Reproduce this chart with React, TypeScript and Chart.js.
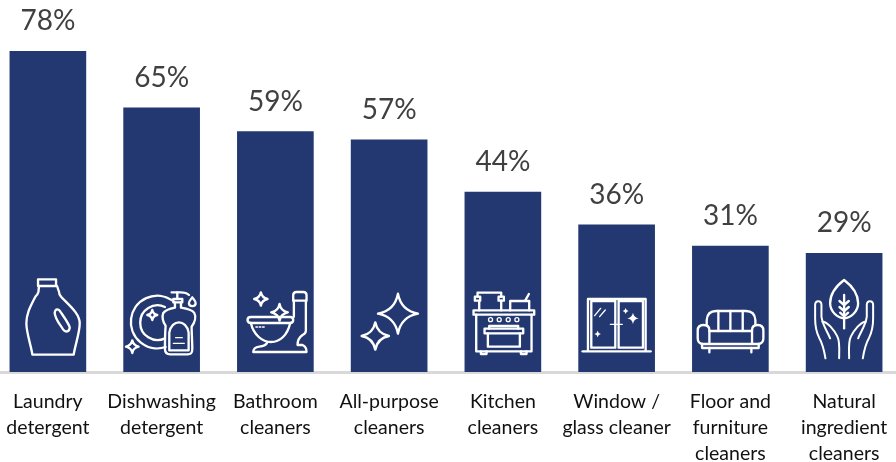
import React, { useEffect, useRef } from "react";
import { Chart, registerables } from "chart.js";

Chart.register(...registerables);

const categories: string[][] = [
  ["Laundry", "detergent"],
  ["Dishwashing", "detergent"],
  ["Bathroom", "cleaners"],
  ["All-purpose", "cleaners"],
  ["Kitchen", "cleaners"],
  ["Window /", "glass cleaner"],
  ["Floor and", "furniture", "cleaners"],
  ["Natural", "ingredient", "cleaners"],
];
const shares: number[] = [78.4, 64.6, 58.8, 56.8, 44, 36, 30.8, 29];

const BAR_COLOR = "#233870";
const FONT = "Lato, 'Open Sans', sans-serif";

function star(cx: number, cy: number, r: number, rx: number = r): string {
  const k = 0.16;
  return `M${cx} ${cy - r} Q${cx + rx * k} ${cy - r * k} ${cx + rx} ${cy} Q${cx + rx * k} ${cy + r * k} ${cx} ${cy + r} Q${cx - rx * k} ${cy + r * k} ${cx - rx} ${cy} Q${cx - rx * k} ${cy - r * k} ${cx} ${cy - r}Z`;
}

type Icon = { ox: number; oy: number; paths: string[]; thin?: string[]; fill?: string[]; mirror?: boolean };

const icons: Icon[] = [
  {
    ox: 142.5, oy: 306,
    paths: [
      "M113 28H167V48H113Z",
      "M116 48L114 66Q112 74 105 80C90 110 78 130 78 160C78 190 92 225 96 254H220C224 225 238 190 238 160C238 130 205 105 182 80Q176 74 176 66L170 48",
      "M163 128C165 115 175 116 180 125C190 140 205 160 208 172C208 187 195 188 188 178C180 165 163 145 163 128Z",
    ],
  },
  {
    ox: 108, oy: 261,
    paths: [
      "M138 45A79 79 0 1 0 120 186",
      "M118 66A52 52 0 1 0 118 160",
      star(80, 90, 15),
      star(20, 185, 19),
      "M138 22H165C175 22 184 24 190 30",
      "M155 22V40",
      "M143 42H170V52H143Z",
      "M148 52V68C138 70 120 74 113 84C108 95 112 112 120 122C118 145 118 170 118 192C118 204 126 208 134 208H186C196 208 200 204 200 192C200 170 198 145 198 125C208 112 212 95 206 84C200 74 178 70 166 68V52",
      "M131 196V143C134 122 148 112 160 112C172 112 186 122 189 143V196Z",
      "M190 55C190 48 195 44 200 37C205 44 210 48 210 55C210 66 190 66 190 55Z",
    ],
    thin: ["M150 158H170", "M143 175H176"],
  },
  {
    ox: 823.5, oy: 306,
    paths: [
      "M877 92V76Q877 66 887 66H907Q917 66 917 76V92Z",
      "M879 92V140M915 92V182Q915 190 905 195Q890 205 890 225H905Q917 230 917 246H757Q758 232 775 230Q795 228 800 216",
      "M750 141H868Q877 141 877 150Q877 159 868 159H750Q740 159 740 150Q740 141 750 141Z",
      "M750 159C758 195 785 216 810 216C838 216 860 195 868 159",
      star(780, 87, 20),
      star(836, 127, 25),
    ],
    thin: ["M765 171H770M775 171H780M785 171H790"],
  },
  {
    ox: 205.5, oy: 306,
    paths: [star(232, 131, 60), star(164, 198, 41)],
  },
  {
    ox: 546, oy: 306,
    paths: [
      "M458 121H640V134H458Z",
      "M466 134V244H632V134",
      "M480 244V252H497V244M600 244V252H617V244",
      "M491 176H607V190H491Z",
      "M501 190V230H597V190",
      "M505 176V168H592V176",
      "M462 80H478V92H462ZM533 80H549V92H533Z",
      "M470 80V68H541V80",
      "M475 92V121M541 92V121",
      "M568 121V93H625V121",
      "M613 92L624 72",
    ],
    thin: [
      "M515 149A6 6 0 1 1 503 149A6 6 0 1 1 515 149Z",
      "M541 149A6 6 0 1 1 529 149A6 6 0 1 1 541 149Z",
      "M568 149A6 6 0 1 1 556 149A6 6 0 1 1 568 149Z",
      "M594 149A6 6 0 1 1 582 149A6 6 0 1 1 594 149Z",
    ],
  },
  {
    ox: 126, oy: 261,
    paths: [
      "M40 197V42H213V197",
      "M24 199H228",
      "M50 188V48H122V188ZM132 188V48H205V188Z",
    ],
    thin: ["M107 118H143", "M60 92L78 70", "M75 95L92 75"],
    fill: [star(153, 78, 9), star(175, 100, 17), star(69, 147, 10)],
  },
  {
    ox: 393, oy: 306,
    paths: [
      "M322 164V150Q324 123 350 123H440Q466 123 468 150V164",
      "M330 183H458",
      "M330 222V180Q330 165 312 165Q295 165 295 182V205Q295 222 312 222H475Q492 222 492 205V182Q492 165 475 165Q458 165 458 180V222",
      "M308 222V234H478V222",
      "M330 234V247M456 234V247",
      "M357 123V183M393 123V183M430 123V183",
    ],
  },
  {
    ox: 120, oy: 291,
    paths: [
      "M120 15C100 30 78 55 78 85C78 110 100 128 120 130C140 128 162 110 162 85C162 55 140 30 120 15Z",
      "M120 60V160",
      "M106 78L120 90L134 78M106 96L120 108L134 96M108 113L120 124L132 113",
    ],
    mirror: true,
  },
];
const hand = [
  "M64 250C60 225 55 205 45 188C36 170 33 150 33 130V90C33 75 52 75 52 90V125C55 150 70 170 78 190",
  "M55 140C70 140 90 165 100 185C108 200 105 230 105 250",
];

const decorations = {
  id: "decorations",
  afterDatasetsDraw(chart: any) {
    const ctx: CanvasRenderingContext2D = chart.ctx;
    const meta = chart.getDatasetMeta(0);
    meta.data.forEach((bar: any, i: number) => {
      ctx.save();
      ctx.fillStyle = "#404040";
      ctx.font = `28px ${FONT}`;
      ctx.textAlign = "center";
      ctx.textBaseline = "alphabetic";
      ctx.fillText(`${Math.round(shares[i])}%`, bar.x, bar.y - 21);
      const ic = icons[i];
      ctx.translate(bar.x, bar.base);
      ctx.scale(1 / 3, 1 / 3);
      ctx.translate(-ic.ox, -ic.oy);
      ctx.strokeStyle = "#ffffff";
      ctx.fillStyle = "#ffffff";
      ctx.lineJoin = "round";
      ctx.lineCap = "round";
      ctx.lineWidth = 7;
      ic.paths.forEach((p) => ctx.stroke(new Path2D(p)));
      ctx.lineWidth = 4;
      (ic.thin || []).forEach((p) => ctx.stroke(new Path2D(p)));
      (ic.fill || []).forEach((p) => ctx.fill(new Path2D(p)));
      if (ic.mirror) {
        ctx.lineWidth = 6;
        hand.forEach((p) => ctx.stroke(new Path2D(p)));
        ctx.translate(ic.ox, 0);
        ctx.scale(-1, 1);
        ctx.translate(-ic.ox, 0);
        hand.forEach((p) => ctx.stroke(new Path2D(p)));
      }
      ctx.restore();
    });
  },
};

export default function App() {
  const ref = useRef<HTMLCanvasElement>(null);
  useEffect(() => {
    const chart = new Chart(ref.current as HTMLCanvasElement, {
      type: "bar",
      data: {
        labels: categories as any,
        datasets: [
          {
            data: shares,
            backgroundColor: BAR_COLOR,
            barThickness: 76,
          },
        ],
      },
      options: {
        animation: false,
        responsive: false,
        layout: { padding: { top: 4, left: 0, right: 0, bottom: 0 } },
        plugins: { legend: { display: false }, tooltip: { enabled: false } },
        scales: {
          y: { display: false, min: 0, max: 90 },
          x: {
            afterFit: (s: any) => {
              s.height = 90;
              s.paddingLeft = 0;
              s.paddingRight = 0;
            },
            grid: { display: false, drawTicks: false },
            border: { display: true, color: "#d9d9d9", width: 3 },
            ticks: {
              autoSkip: false,
              maxRotation: 0,
              minRotation: 0,
              color: "#111111",
              padding: 17,
              font: { family: FONT, size: 19.5, lineHeight: 1.335 },
            },
          },
        },
      },
      plugins: [decorations],
    });
    return () => chart.destroy();
  }, []);
  return (
    <div style={{ position: "fixed", left: 0, top: 0, width: 896, height: 462, overflow: "hidden", background: "#fff" }}>
      <canvas ref={ref} width={910} height={462} style={{ position: "absolute", left: -9, top: 0 }} />
    </div>
  );
}
